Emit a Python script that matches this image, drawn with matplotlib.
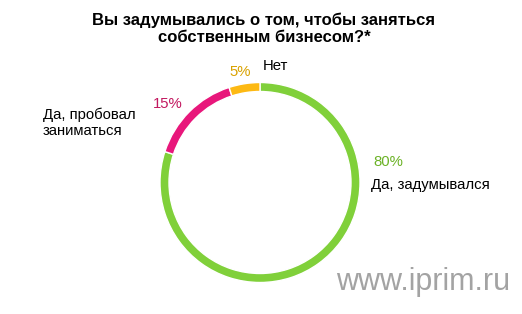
import matplotlib.pyplot as plt

plt.rcParams['font.family'] = ['Liberation Sans', 'DejaVu Sans']

labels = ["Да, задумывался", "Да, пробовал\nзаниматься", "Нет"]
values = [80, 15, 5]
colors = ["#80D03A", "#E8177B", "#FDB913"]
pct_colors = ["#6BB226", "#C2185F", "#D9A200"]

W, H = 522, 314
fig = plt.figure(figsize=(W / 100, H / 100), dpi=100)
ax = fig.add_axes([0, 0, 1, 1])

cx, cy, r = 260, H - 182.5, 100
ax.pie(values, colors=colors, startangle=90, counterclock=False,
       center=(cx, cy), radius=r, frame=True,
       wedgeprops=dict(width=9, edgecolor="white", linewidth=1))
ax.set_xlim(0, W)
ax.set_ylim(0, H)
ax.set_aspect("equal")
ax.axis("off")

ax.text(264, H - 20, "Вы задумывались о том, чтобы заняться", ha="center", va="center",
        fontsize=12, fontweight="bold")
ax.text(264, H - 38, "собственным бизнесом?*", ha="center", va="center",
        fontsize=12, fontweight="bold")

fs = 10.7
ax.text(373, H - 162, f"{values[0]}%", color=pct_colors[0], fontsize=fs, va="center")
ax.text(371, H - 185, labels[0], fontsize=fs, va="center")
ax.text(153, H - 104, f"{values[1]}%", color=pct_colors[1], fontsize=fs, va="center")
ax.text(43, H - 123, labels[1], fontsize=fs, va="center", linespacing=1.2)
ax.text(229, H - 72, f"{values[2]}%", color=pct_colors[2], fontsize=fs, va="center")
ax.text(263, H - 66, labels[2], fontsize=fs, va="center")

ax.text(510, H - 282, "www.iprim.ru", ha="right", va="center", fontsize=22, color="#A3A3A3")

fig.savefig("out.png", dpi=100)
